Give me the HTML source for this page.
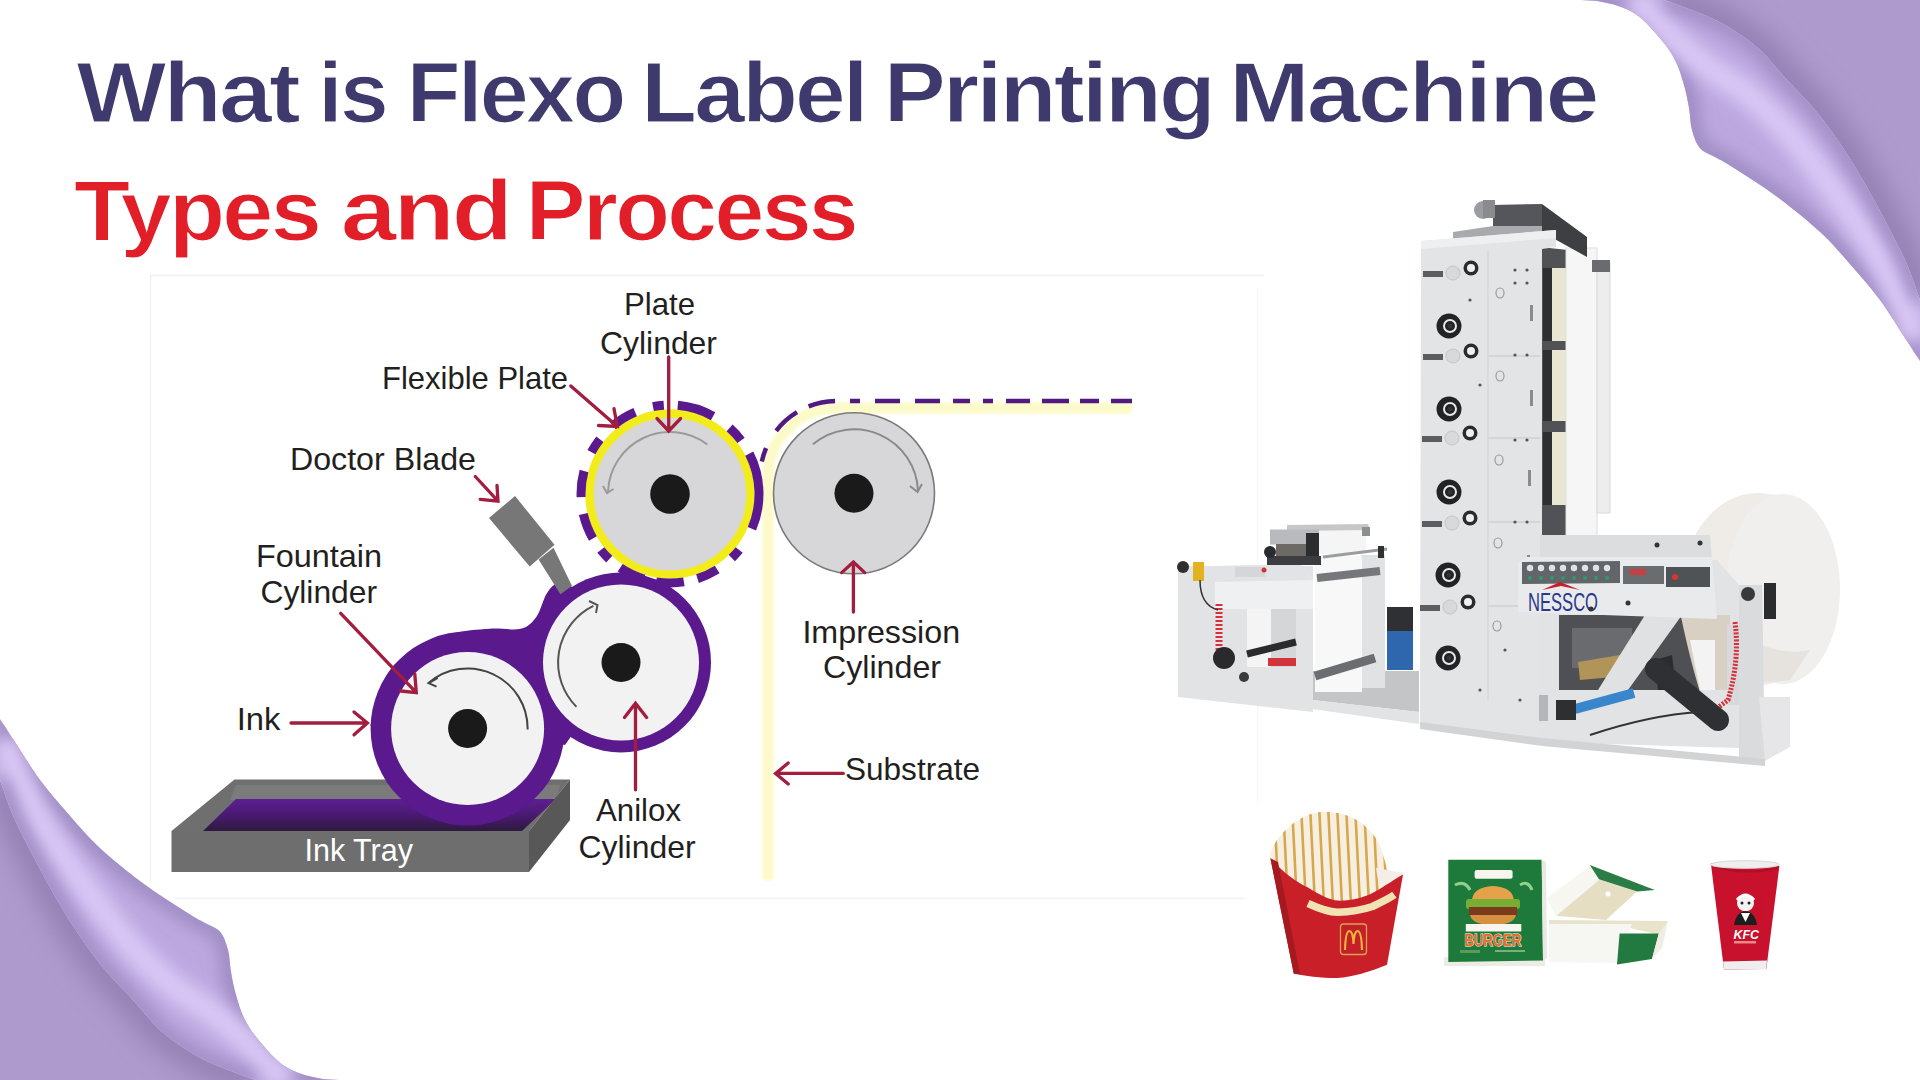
<!DOCTYPE html>
<html><head><meta charset="utf-8"><title>Flexo Label Printing Machine</title>
<style>
html,body{margin:0;padding:0;width:1920px;height:1080px;overflow:hidden;background:#fff}
svg{position:absolute;left:0;top:0;display:block}
</style></head><body>
<svg width="1920" height="1080" viewBox="0 0 1920 1080">
<defs>
<filter id="blur8" x="-20%" y="-20%" width="140%" height="140%"><feGaussianBlur stdDeviation="8"/></filter>
<filter id="blur12" x="-30%" y="-30%" width="160%" height="160%"><feGaussianBlur stdDeviation="12"/></filter>
<filter id="blur3" x="-20%" y="-20%" width="140%" height="140%"><feGaussianBlur stdDeviation="3"/></filter>
<filter id="blur1" x="-20%" y="-20%" width="140%" height="140%"><feGaussianBlur stdDeviation="1.5"/></filter>
</defs>
<path d="M150,275.5 L1264,275.5" stroke="#f0f0f0" stroke-width="1.3"/><path d="M150.5,275 L150.5,881" stroke="#f1f1f1" stroke-width="1.3"/><path d="M175,898.5 L1245,898.5" stroke="#f2f2f2" stroke-width="1.3"/><path d="M1257.5,288 L1257.5,805" stroke="#f7f7f7" stroke-width="1.3"/>
<path d="M1132,408 L837,408 A69,69 0 0 0 768,477 L768,880" fill="none" stroke="#fbfac8" stroke-width="11" filter="url(#blur1)"/>
<path d="M1132,401 L837,401 A77,77 0 0 0 760,478" fill="none" stroke="#521a80" stroke-width="4.5" stroke-dasharray="21 12 19 11 27 12 24 13 10 13 17 13 25 15 25 15 10 15 27 13 28 20 14 100"/>
<polygon points="171.5,831 234.5,779.5 570,779.5 529,831" fill="#6f6f6f"/>
<polygon points="236,785 560,785 556,800 230,800" fill="#7b7b7b"/>
<linearGradient id="ink" x1="0" y1="0" x2="0" y2="1"><stop offset="0" stop-color="#5e1f92"/><stop offset="0.5" stop-color="#4a1a72"/><stop offset="1" stop-color="#2d1a3e"/></linearGradient>
<polygon points="203,831 236,799 556,799 522,831" fill="url(#ink)"/>
<path d="M370.4,725.9 C373.0,717.7 379.1,689.1 386.0,676.6 C392.9,664.1 401.0,657.8 411.8,650.7 C422.6,643.6 437.7,637.6 450.7,633.9 C463.7,630.2 477.9,629.6 489.6,628.7 C501.3,627.8 512.9,630.7 520.7,628.7 C528.5,626.8 532.0,622.8 536.3,617.0 C540.6,611.2 543.1,599.3 546.6,593.7 C550.1,588.1 553.5,584.6 557.0,583.3 C560.5,582.0 561.9,584.9 567.4,586.0 C572.9,587.1 586.2,589.3 590.0,590.0 L623,662 L565,745 L467.6,728.5 Z" fill="#5a1a8e"/>
<circle cx="467.6" cy="728.5" r="97" fill="#5a1a8e"/>
<circle cx="467.6" cy="728.5" r="76.5" fill="#f2f2f3"/>
<circle cx="467.6" cy="728.5" r="19.5" fill="#1a1a1a"/>
<circle cx="621" cy="662.4" r="90" fill="#5a1a8e"/>
<circle cx="621" cy="662.4" r="78" fill="#f2f2f3"/>
<circle cx="621" cy="662.4" r="19.5" fill="#1a1a1a"/>
<rect x="171.5" y="831" width="357.5" height="41" fill="#6e6e6e"/>
<polygon points="529,831 570,779.5 570,820 529,872" fill="#585858"/>
<polygon points="489,518 515,496 554.5,544.8 529.7,566.5" fill="#777777"/>
<polygon points="538.6,559.6 553.5,547.8 572,586 560.4,594.3" fill="#777777"/>
<circle cx="670" cy="494" r="80.5" fill="#d7d7d9" stroke="#f3ec1b" stroke-width="8.5"/>
<path d="M653.0,406.6 A89,89 0 0 1 663.8,405.2 M677.8,405.3 A89,89 0 0 1 713.1,416.2 M729.6,427.9 A89,89 0 0 1 741.1,440.4 M749.3,453.6 A89,89 0 0 1 751.9,528.8 M739.2,550.0 A89,89 0 0 1 731.8,558.0 M717.2,569.5 A89,89 0 0 1 697.5,578.6 M683.9,581.9 A89,89 0 0 1 656.1,581.9 M644.0,579.1 A89,89 0 0 1 620.2,567.8 M609.3,559.1 A89,89 0 0 1 600.8,550.0 M592.9,538.5 A89,89 0 0 1 583.3,514.0 M581.1,497.1 A89,89 0 0 1 584.0,471.0 M591.4,452.2 A89,89 0 0 1 599.9,439.2 M612.8,425.8 A89,89 0 0 1 635.2,412.1" fill="none" stroke="#5a1a8e" stroke-width="9"/>
<circle cx="670" cy="494" r="19.8" fill="#1a1a1a"/>
<circle cx="854" cy="493.3" r="80.5" fill="#d7d7d9" stroke="#7a7a7a" stroke-width="1.6"/>
<circle cx="854" cy="493.3" r="19.5" fill="#1a1a1a"/>
<path d="M707.3,444.5 A62,62 0 0 0 608.0,491.8" fill="none" stroke="#9a9a9a" stroke-width="2"/>
<polyline points="603,486 607,493 613.5,489" fill="none" stroke="#9a9a9a" stroke-width="2"/>
<path d="M812.9,444.3 A64,64 0 0 1 918.0,491.1" fill="none" stroke="#8a8a8a" stroke-width="2"/>
<polyline points="910,486 917.5,492 922,484" fill="none" stroke="#8a8a8a" stroke-width="2"/>
<path d="M527.6,729.5 A60,60 0 0 0 428.2,683.2" fill="none" stroke="#444" stroke-width="2"/>
<polyline points="437.8,678 428.7,683.1 436.5,686.7" fill="none" stroke="#444" stroke-width="2"/>
<path d="M576.5,706.9 A63,63 0 0 1 593.4,605.8" fill="none" stroke="#555" stroke-width="2"/>
<polyline points="589,601 597.5,605 596,613" fill="none" stroke="#555" stroke-width="2"/>
<path d="M668.7,357 L668.7,431 M657,418.5 L668.7,431 L680.6,418.5" fill="none" stroke="#a31d3f" stroke-width="3.3" stroke-linejoin="miter" stroke-linecap="round"/>
<path d="M570.8,385.9 L617.3,426.4 M614,408.6 L617.3,426.4 L598.5,425.5" fill="none" stroke="#a31d3f" stroke-width="3.3" stroke-linejoin="miter" stroke-linecap="round"/>
<path d="M475.3,476.5 L498,501.2 M497,485.4 L498,501.2 L480.2,499.3" fill="none" stroke="#a31d3f" stroke-width="3.3" stroke-linejoin="miter" stroke-linecap="round"/>
<path d="M340.7,613.3 L416.3,692.6 M414.8,674 L416.3,692.6 L400.7,691" fill="none" stroke="#a31d3f" stroke-width="3.3" stroke-linejoin="miter" stroke-linecap="round"/>
<path d="M291,723 L367.4,723 M354,711.9 L367.4,723 L354,734.8" fill="none" stroke="#a31d3f" stroke-width="3.3" stroke-linejoin="miter" stroke-linecap="round"/>
<path d="M635.5,789.8 L635.5,703.2 M624.5,717.4 L635.5,703.2 L646.6,717.4" fill="none" stroke="#a31d3f" stroke-width="3.3" stroke-linejoin="miter" stroke-linecap="round"/>
<path d="M853.4,612 L853.4,562 M841.7,572.6 L853.4,562 L864.7,572.6" fill="none" stroke="#a31d3f" stroke-width="3.3" stroke-linejoin="miter" stroke-linecap="round"/>
<path d="M843.3,773.4 L775.6,773.4 M788.2,763 L775.6,773.4 L788.2,784" fill="none" stroke="#a31d3f" stroke-width="3.3" stroke-linejoin="miter" stroke-linecap="round"/>
<text x="623.91" y="315" font-family='"Liberation Sans", sans-serif' font-size="32" fill="#231f20" textLength="71.14" lengthAdjust="spacingAndGlyphs">Plate</text>
<text x="599.96" y="353.6" font-family='"Liberation Sans", sans-serif' font-size="32" fill="#231f20" textLength="117.04" lengthAdjust="spacingAndGlyphs">Cylinder</text>
<text x="381.97" y="389" font-family='"Liberation Sans", sans-serif' font-size="32" fill="#231f20" textLength="186.05" lengthAdjust="spacingAndGlyphs">Flexible Plate</text>
<text x="289.95" y="469.6" font-family='"Liberation Sans", sans-serif' font-size="32" fill="#231f20" textLength="186.07" lengthAdjust="spacingAndGlyphs">Doctor Blade</text>
<text x="255.9" y="566.6" font-family='"Liberation Sans", sans-serif' font-size="32" fill="#231f20" textLength="126.18" lengthAdjust="spacingAndGlyphs">Fountain</text>
<text x="260.47" y="603" font-family='"Liberation Sans", sans-serif' font-size="32" fill="#231f20" textLength="116.53" lengthAdjust="spacingAndGlyphs">Cylinder</text>
<text x="236.78" y="730.4" font-family='"Liberation Sans", sans-serif' font-size="32" fill="#231f20" textLength="43.71" lengthAdjust="spacingAndGlyphs">Ink</text>
<text x="596.0" y="820.6" font-family='"Liberation Sans", sans-serif' font-size="32" fill="#231f20" textLength="85.0" lengthAdjust="spacingAndGlyphs">Anilox</text>
<text x="578.46" y="857.5" font-family='"Liberation Sans", sans-serif' font-size="32" fill="#231f20" textLength="117.05" lengthAdjust="spacingAndGlyphs">Cylinder</text>
<text x="802.41" y="642.5" font-family='"Liberation Sans", sans-serif' font-size="32" fill="#231f20" textLength="157.66" lengthAdjust="spacingAndGlyphs">Impression</text>
<text x="822.98" y="678" font-family='"Liberation Sans", sans-serif' font-size="32" fill="#231f20" textLength="118.02" lengthAdjust="spacingAndGlyphs">Cylinder</text>
<text x="844.97" y="780.3" font-family='"Liberation Sans", sans-serif' font-size="32" fill="#231f20" textLength="135.05" lengthAdjust="spacingAndGlyphs">Substrate</text>
<text x="304.46" y="860.8" font-family='"Liberation Sans", sans-serif' font-size="32" fill="#ffffff" textLength="108.55" lengthAdjust="spacingAndGlyphs">Ink Tray</text>

<g id="curl">
  <clipPath id="backclip"><path d="M1920.0,300.0 C1917.8,294.1 1912.2,276.5 1907.0,264.5 C1901.8,252.5 1895.5,240.6 1889.0,228.0 C1882.5,215.4 1875.4,201.9 1868.0,189.0 C1860.6,176.1 1853.4,163.3 1844.8,150.4 C1836.2,137.5 1826.3,123.6 1816.3,111.5 C1806.3,99.4 1794.9,88.5 1785.0,77.8 C1775.1,67.0 1768.2,56.6 1756.7,47.0 C1745.2,37.4 1731.3,28.1 1716.0,20.3 C1700.7,12.5 1673.2,3.4 1664.6,0.0 L1920,0 Z"/></clipPath>
  <clipPath id="bandclip"><path d="M1560.0,0.0 C1566.7,0.2 1587.5,-0.8 1600.0,1.5 C1612.5,3.8 1624.5,7.0 1634.8,13.5 C1645.1,20.0 1655.0,32.5 1661.9,40.6 C1668.8,48.7 1672.3,54.6 1676.0,62.0 C1679.7,69.4 1681.8,77.3 1684.0,85.0 C1686.2,92.7 1687.7,100.6 1689.0,108.0 C1690.3,115.4 1690.1,123.0 1691.9,129.6 C1693.7,136.2 1695.8,143.2 1699.6,147.8 C1703.4,152.4 1709.8,154.0 1715.0,157.0 C1720.2,160.0 1720.3,159.3 1730.7,166.0 C1741.1,172.7 1762.3,185.8 1777.4,197.0 C1792.5,208.2 1809.0,221.6 1821.5,233.3 C1834.0,245.0 1842.8,255.9 1852.6,267.0 C1862.3,278.1 1871.3,288.2 1880.0,300.0 C1888.7,311.8 1898.3,327.8 1905.0,338.0 C1911.7,348.2 1917.5,357.2 1920.0,361.0 L1920.0,300.0 C1917.8,294.1 1912.2,276.5 1907.0,264.5 C1901.8,252.5 1895.5,240.6 1889.0,228.0 C1882.5,215.4 1875.4,201.9 1868.0,189.0 C1860.6,176.1 1853.4,163.3 1844.8,150.4 C1836.2,137.5 1826.3,123.6 1816.3,111.5 C1806.3,99.4 1794.9,88.5 1785.0,77.8 C1775.1,67.0 1768.2,56.6 1756.7,47.0 C1745.2,37.4 1731.3,28.1 1716.0,20.3 C1700.7,12.5 1673.2,3.4 1664.6,0.0 Z"/></clipPath>
  <path d="M1920.0,300.0 C1917.8,294.1 1912.2,276.5 1907.0,264.5 C1901.8,252.5 1895.5,240.6 1889.0,228.0 C1882.5,215.4 1875.4,201.9 1868.0,189.0 C1860.6,176.1 1853.4,163.3 1844.8,150.4 C1836.2,137.5 1826.3,123.6 1816.3,111.5 C1806.3,99.4 1794.9,88.5 1785.0,77.8 C1775.1,67.0 1768.2,56.6 1756.7,47.0 C1745.2,37.4 1731.3,28.1 1716.0,20.3 C1700.7,12.5 1673.2,3.4 1664.6,0.0 L1920,0 Z" fill="#ae9acd"/>
  <g clip-path="url(#backclip)">
    <path d="M1920.0,300.0 C1917.8,294.1 1912.2,276.5 1907.0,264.5 C1901.8,252.5 1895.5,240.6 1889.0,228.0 C1882.5,215.4 1875.4,201.9 1868.0,189.0 C1860.6,176.1 1853.4,163.3 1844.8,150.4 C1836.2,137.5 1826.3,123.6 1816.3,111.5 C1806.3,99.4 1794.9,88.5 1785.0,77.8 C1775.1,67.0 1768.2,56.6 1756.7,47.0 C1745.2,37.4 1731.3,28.1 1716.0,20.3 C1700.7,12.5 1673.2,3.4 1664.6,0.0" fill="none" stroke="#9481b3" stroke-width="34" filter="url(#blur12)"/>
  </g>
  <path d="M1560.0,0.0 C1566.7,0.2 1587.5,-0.8 1600.0,1.5 C1612.5,3.8 1624.5,7.0 1634.8,13.5 C1645.1,20.0 1655.0,32.5 1661.9,40.6 C1668.8,48.7 1672.3,54.6 1676.0,62.0 C1679.7,69.4 1681.8,77.3 1684.0,85.0 C1686.2,92.7 1687.7,100.6 1689.0,108.0 C1690.3,115.4 1690.1,123.0 1691.9,129.6 C1693.7,136.2 1695.8,143.2 1699.6,147.8 C1703.4,152.4 1709.8,154.0 1715.0,157.0 C1720.2,160.0 1720.3,159.3 1730.7,166.0 C1741.1,172.7 1762.3,185.8 1777.4,197.0 C1792.5,208.2 1809.0,221.6 1821.5,233.3 C1834.0,245.0 1842.8,255.9 1852.6,267.0 C1862.3,278.1 1871.3,288.2 1880.0,300.0 C1888.7,311.8 1898.3,327.8 1905.0,338.0 C1911.7,348.2 1917.5,357.2 1920.0,361.0 L1920.0,300.0 C1917.8,294.1 1912.2,276.5 1907.0,264.5 C1901.8,252.5 1895.5,240.6 1889.0,228.0 C1882.5,215.4 1875.4,201.9 1868.0,189.0 C1860.6,176.1 1853.4,163.3 1844.8,150.4 C1836.2,137.5 1826.3,123.6 1816.3,111.5 C1806.3,99.4 1794.9,88.5 1785.0,77.8 C1775.1,67.0 1768.2,56.6 1756.7,47.0 C1745.2,37.4 1731.3,28.1 1716.0,20.3 C1700.7,12.5 1673.2,3.4 1664.6,0.0 Z" fill="#bca8df"/>
  <g clip-path="url(#bandclip)">
    <path d="M1560.0,0.0 C1566.7,0.2 1587.5,-0.8 1600.0,1.5 C1612.5,3.8 1624.5,7.0 1634.8,13.5 C1645.1,20.0 1655.0,32.5 1661.9,40.6 C1668.8,48.7 1672.3,54.6 1676.0,62.0 C1679.7,69.4 1681.8,77.3 1684.0,85.0 C1686.2,92.7 1687.7,100.6 1689.0,108.0 C1690.3,115.4 1690.1,123.0 1691.9,129.6 C1693.7,136.2 1695.8,143.2 1699.6,147.8 C1703.4,152.4 1709.8,154.0 1715.0,157.0 C1720.2,160.0 1720.3,159.3 1730.7,166.0 C1741.1,172.7 1762.3,185.8 1777.4,197.0 C1792.5,208.2 1809.0,221.6 1821.5,233.3 C1834.0,245.0 1842.8,255.9 1852.6,267.0 C1862.3,278.1 1871.3,288.2 1880.0,300.0 C1888.7,311.8 1898.3,327.8 1905.0,338.0 C1911.7,348.2 1917.5,357.2 1920.0,361.0" fill="none" stroke="#9f8bc3" stroke-width="20" filter="url(#blur8)"/>
    <path d="M1630.0,0.0 C1633.3,2.0 1642.4,5.2 1650.0,12.0 C1657.6,18.8 1665.6,31.3 1675.4,40.6 C1685.2,49.9 1696.6,58.5 1709.0,67.7 C1721.4,76.9 1736.5,84.8 1750.0,96.0 C1763.5,107.2 1777.2,120.8 1790.0,135.0 C1802.8,149.2 1815.8,167.3 1826.7,181.5 C1837.6,195.7 1846.2,207.4 1855.2,220.4 C1864.2,233.4 1872.7,244.4 1881.0,259.3 C1889.3,274.2 1899.3,296.6 1905.0,310.0 C1910.7,323.4 1913.3,335.0 1915.0,340.0" fill="none" stroke="#d9c8f6" stroke-width="26" filter="url(#blur8)"/>
    <path d="M1920.0,300.0 C1917.8,294.1 1912.2,276.5 1907.0,264.5 C1901.8,252.5 1895.5,240.6 1889.0,228.0 C1882.5,215.4 1875.4,201.9 1868.0,189.0 C1860.6,176.1 1853.4,163.3 1844.8,150.4 C1836.2,137.5 1826.3,123.6 1816.3,111.5 C1806.3,99.4 1794.9,88.5 1785.0,77.8 C1775.1,67.0 1768.2,56.6 1756.7,47.0 C1745.2,37.4 1731.3,28.1 1716.0,20.3 C1700.7,12.5 1673.2,3.4 1664.6,0.0" fill="none" stroke="#9f8bc2" stroke-width="16" filter="url(#blur8)"/>
  </g>
</g>
<use href="#curl" transform="rotate(180 960 540)"/>
<text x="76.50" y="122" font-family='"Liberation Sans", sans-serif' font-weight="700" letter-spacing="-2.5" font-size="85" fill="#3e3a6d" textLength="221.51" lengthAdjust="spacingAndGlyphs" stroke="#ffffff" stroke-width="1.2">What</text>
<text x="318.33" y="122" font-family='"Liberation Sans", sans-serif' font-weight="700" letter-spacing="-2.5" font-size="85" fill="#3e3a6d" textLength="67.79" lengthAdjust="spacingAndGlyphs" stroke="#ffffff" stroke-width="1.2">is</text>
<text x="406.85" y="122" font-family='"Liberation Sans", sans-serif' font-weight="700" letter-spacing="-2.5" font-size="85" fill="#3e3a6d" textLength="216.66" lengthAdjust="spacingAndGlyphs" stroke="#ffffff" stroke-width="1.2">Flexo</text>
<text x="641.26" y="122" font-family='"Liberation Sans", sans-serif' font-weight="700" letter-spacing="-2.5" font-size="85" fill="#3e3a6d" textLength="224.39" lengthAdjust="spacingAndGlyphs" stroke="#ffffff" stroke-width="1.2">Label</text>
<text x="883.85" y="122" font-family='"Liberation Sans", sans-serif' font-weight="700" letter-spacing="-2.5" font-size="85" fill="#3e3a6d" textLength="329.23" lengthAdjust="spacingAndGlyphs" stroke="#ffffff" stroke-width="1.2">Printing</text>
<text x="1228.90" y="122" font-family='"Liberation Sans", sans-serif' font-weight="700" letter-spacing="-2.5" font-size="85" fill="#3e3a6d" textLength="367.61" lengthAdjust="spacingAndGlyphs" stroke="#ffffff" stroke-width="1.2">Machine</text>
<text x="73.99" y="240" font-family='"Liberation Sans", sans-serif' font-weight="700" letter-spacing="-2.5" font-size="85" fill="#e21f29" textLength="245.02" lengthAdjust="spacingAndGlyphs" stroke="#ffffff" stroke-width="1.2">Types</text>
<text x="340.87" y="240" font-family='"Liberation Sans", sans-serif' font-weight="700" letter-spacing="-2.5" font-size="85" fill="#e21f29" textLength="169.27" lengthAdjust="spacingAndGlyphs" stroke="#ffffff" stroke-width="1.2">and</text>
<text x="525.88" y="240" font-family='"Liberation Sans", sans-serif' font-weight="700" letter-spacing="-2.5" font-size="85" fill="#e21f29" textLength="330.13" lengthAdjust="spacingAndGlyphs" stroke="#ffffff" stroke-width="1.2">Process</text>
<ellipse cx="1758" cy="589" rx="76" ry="96" fill="#efece8"/>
<ellipse cx="1783" cy="589" rx="57" ry="95" fill="#f0efed"/>
<path d="M1700,640 Q1730,690 1790,680 L1810,650 Q1760,660 1720,610 Z" fill="#dcd8d2" opacity="0.5"/>
<polygon points="1540,247 1568,250 1568,535 1540,535" fill="#505256"/>
<rect x="1551" y="268" width="16" height="73" fill="#e9e7d4"/>
<rect x="1543" y="268" width="9" height="73" fill="#2e2f31"/>
<rect x="1551" y="350" width="16" height="71" fill="#e9e7d4"/>
<rect x="1543" y="350" width="9" height="71" fill="#2e2f31"/>
<rect x="1551" y="432" width="16" height="73" fill="#e9e7d4"/>
<rect x="1543" y="432" width="9" height="73" fill="#2e2f31"/>
<rect x="1566" y="248" width="31" height="288" fill="#f6f6f6" stroke="#dedede" stroke-width="1"/>
<rect x="1597" y="263" width="13" height="250" fill="#ededee" stroke="#d8d8d8" stroke-width="1"/>
<rect x="1592" y="260" width="18" height="12" fill="#6a6b6e"/>
<polygon points="1542,204 1587,237 1587,257 1542,232" fill="#3e3f43"/>
<polygon points="1493,205 1542,204 1542,232 1493,232" fill="#55565b"/>
<polygon points="1453,232 1493,226 1542,226 1542,240 1453,242" fill="#a9aaad"/>
<circle cx="1483" cy="210" r="9" fill="#9c9da0"/>
<rect x="1483" y="200" width="12" height="18" fill="#8a8b8e"/>
<polygon points="1421,241 1556,230 1556,247 1542,249 1542,740 1420,724" fill="#e3e4e6"/>
<polygon points="1421,241 1556,230 1556,238 1421,249" fill="#eeeff0"/>
<line x1="1488" y1="356" x2="1540" y2="356" stroke="#cfd0d3" stroke-width="1.5"/>
<line x1="1488" y1="438" x2="1540" y2="438" stroke="#cfd0d3" stroke-width="1.5"/>
<line x1="1488" y1="522" x2="1540" y2="522" stroke="#cfd0d3" stroke-width="1.5"/>
<line x1="1488" y1="606" x2="1540" y2="606" stroke="#cfd0d3" stroke-width="1.5"/>
<line x1="1488" y1="250" x2="1488" y2="700" stroke="#d6d7d9" stroke-width="1.2"/>
<circle cx="1449" cy="326" r="12.5" fill="#222326"/><circle cx="1450" cy="326" r="6" fill="none" stroke="#e8e8e8" stroke-width="2"/><circle cx="1450" cy="326" r="2.5" fill="#333"/>
<circle cx="1449" cy="409" r="12.5" fill="#222326"/><circle cx="1450" cy="409" r="6" fill="none" stroke="#e8e8e8" stroke-width="2"/><circle cx="1450" cy="409" r="2.5" fill="#333"/>
<circle cx="1449" cy="492" r="12.5" fill="#222326"/><circle cx="1450" cy="492" r="6" fill="none" stroke="#e8e8e8" stroke-width="2"/><circle cx="1450" cy="492" r="2.5" fill="#333"/>
<circle cx="1448" cy="575" r="12.5" fill="#222326"/><circle cx="1449" cy="575" r="6" fill="none" stroke="#e8e8e8" stroke-width="2"/><circle cx="1449" cy="575" r="2.5" fill="#333"/>
<circle cx="1448" cy="658" r="12.5" fill="#222326"/><circle cx="1449" cy="658" r="6" fill="none" stroke="#e8e8e8" stroke-width="2"/><circle cx="1449" cy="658" r="2.5" fill="#333"/>
<circle cx="1471" cy="268" r="7.5" fill="#2a2b2e"/><circle cx="1471" cy="268" r="4" fill="#f0f0f0"/>
<circle cx="1453" cy="273" r="7" fill="#d8d9db" stroke="#c4c5c8" stroke-width="1"/>
<rect x="1423" y="271" width="20" height="6" fill="#5c5d60"/>
<circle cx="1471" cy="351" r="7.5" fill="#2a2b2e"/><circle cx="1471" cy="351" r="4" fill="#f0f0f0"/>
<circle cx="1453" cy="356" r="7" fill="#d8d9db" stroke="#c4c5c8" stroke-width="1"/>
<rect x="1423" y="354" width="20" height="6" fill="#5c5d60"/>
<circle cx="1470" cy="433" r="7.5" fill="#2a2b2e"/><circle cx="1470" cy="433" r="4" fill="#f0f0f0"/>
<circle cx="1452" cy="438" r="7" fill="#d8d9db" stroke="#c4c5c8" stroke-width="1"/>
<rect x="1422" y="436" width="20" height="6" fill="#5c5d60"/>
<circle cx="1470" cy="518" r="7.5" fill="#2a2b2e"/><circle cx="1470" cy="518" r="4" fill="#f0f0f0"/>
<circle cx="1452" cy="523" r="7" fill="#d8d9db" stroke="#c4c5c8" stroke-width="1"/>
<rect x="1422" y="521" width="20" height="6" fill="#5c5d60"/>
<circle cx="1468" cy="602" r="7.5" fill="#2a2b2e"/><circle cx="1468" cy="602" r="4" fill="#f0f0f0"/>
<circle cx="1450" cy="607" r="7" fill="#d8d9db" stroke="#c4c5c8" stroke-width="1"/>
<rect x="1420" y="605" width="20" height="6" fill="#5c5d60"/>
<ellipse cx="1500" cy="293" rx="4" ry="5" fill="none" stroke="#9a9b9e" stroke-width="1.2"/>
<ellipse cx="1500" cy="376" rx="4" ry="5" fill="none" stroke="#9a9b9e" stroke-width="1.2"/>
<ellipse cx="1499" cy="460" rx="4" ry="5" fill="none" stroke="#9a9b9e" stroke-width="1.2"/>
<ellipse cx="1498" cy="543" rx="4" ry="5" fill="none" stroke="#9a9b9e" stroke-width="1.2"/>
<ellipse cx="1497" cy="626" rx="4" ry="5" fill="none" stroke="#9a9b9e" stroke-width="1.2"/>
<rect x="1530" y="305" width="3" height="16" fill="#8a8b8e"/>
<rect x="1530" y="390" width="3" height="16" fill="#8a8b8e"/>
<rect x="1528" y="470" width="3" height="16" fill="#8a8b8e"/>
<rect x="1527" y="555" width="3" height="16" fill="#8a8b8e"/>
<circle cx="1515" cy="270" r="1.6" fill="#555"/>
<circle cx="1527" cy="270" r="1.6" fill="#555"/>
<circle cx="1515" cy="283" r="1.6" fill="#555"/>
<circle cx="1527" cy="283" r="1.6" fill="#555"/>
<circle cx="1515" cy="355" r="1.6" fill="#555"/>
<circle cx="1527" cy="355" r="1.6" fill="#555"/>
<circle cx="1515" cy="440" r="1.6" fill="#555"/>
<circle cx="1527" cy="440" r="1.6" fill="#555"/>
<circle cx="1515" cy="522" r="1.6" fill="#555"/>
<circle cx="1527" cy="522" r="1.6" fill="#555"/>
<circle cx="1470" cy="300" r="1.6" fill="#555"/>
<circle cx="1480" cy="385" r="1.6" fill="#555"/>
<circle cx="1505" cy="650" r="1.6" fill="#555"/>
<circle cx="1480" cy="690" r="1.6" fill="#555"/>
<circle cx="1520" cy="700" r="1.6" fill="#555"/>
<polygon points="1312,671 1419,671 1419,712 1312,700" fill="#c4c5c7"/>
<polygon points="1312,700 1419,712 1419,724 1312,709" fill="#e2e3e5"/>
<rect x="1361" y="555" width="24" height="133" fill="#e1e2e4"/>
<rect x="1315" y="556" width="47" height="136" fill="#f8f8f8"/>
<line x1="1317" y1="578" x2="1380" y2="571" stroke="#76777a" stroke-width="8"/>
<line x1="1315" y1="676" x2="1375" y2="658" stroke="#6c6d70" stroke-width="9"/>
<path fill-rule="evenodd" d="M1178,566 L1313,566 L1313,712 L1178,697 Z M1247,607 L1296,607 L1296,667 L1247,667 Z" fill="#e2e3e5"/>
<rect x="1247" y="607" width="24" height="60" fill="#f4f4f5"/>
<rect x="1271" y="607" width="25" height="60" fill="#d5d6d8"/>
<line x1="1247" y1="654" x2="1296" y2="642" stroke="#2b2b2d" stroke-width="7"/>
<rect x="1268" y="658" width="28" height="8" fill="#d2343a"/>
<polygon points="1215,566 1300,564 1313,580 1313,609 1215,609" fill="#eff0f1"/>
<polygon points="1215,566 1300,564 1313,580 1215,582" fill="#e2e3e6"/>
<rect x="1235" y="567" width="30" height="10" fill="#d5d6d9"/>
<circle cx="1264" cy="570" r="2.5" fill="#c33"/>
<path d="M1219,604 L1219,660" stroke="#d8303a" stroke-width="7" stroke-dasharray="2 2"/>
<circle cx="1224" cy="658" r="11" fill="#2a2a2c"/>
<circle cx="1244" cy="677" r="5" fill="#3a3a3c"/>
<rect x="1193" y="562" width="11" height="19" fill="#e3b21f"/>
<circle cx="1183" cy="567" r="6" fill="#2f2f31"/>
<path d="M1200,580 Q1200,605 1218,610" fill="none" stroke="#333" stroke-width="1.5"/>
<rect x="1319" y="530" width="47" height="24" fill="#f5f5f5"/>
<polygon points="1287,525 1368,524 1370,530 1287,531" fill="#c6c7c9"/>
<rect x="1362" y="527" width="8" height="9" fill="#8d8e90"/>
<rect x="1270" y="529.5" width="49" height="15" fill="#b9babd"/>
<rect x="1276" y="544" width="30" height="13" fill="#6d6a66"/>
<rect x="1306" y="533" width="13" height="28" fill="#2c2d30"/>
<rect x="1267" y="556" width="54" height="9" fill="#3c3d40"/>
<circle cx="1270" cy="552" r="6" fill="#2a2b2e"/>
<line x1="1323" y1="557" x2="1387" y2="549" stroke="#9c9da0" stroke-width="3"/>
<rect x="1378" y="546" width="6" height="12" fill="#2f3033"/>
<rect x="1387" y="612" width="26" height="58" fill="#2e67ad"/>
<rect x="1387" y="607" width="26" height="24" fill="#2f3034"/>
<polygon points="1540,535 1710,535 1712,560 1540,560" fill="#dcdddf"/>
<polygon points="1559,612 1739,612 1739,692 1559,692" fill="#4f5053"/>
<path d="M1660,612 L1739,612 L1739,692 L1700,692 Q1690,660 1680,612 Z" fill="#d8d0c2"/>
<rect x="1572" y="628" width="60" height="40" fill="#6a6b6e"/>
<polygon points="1578,662 1620,655 1625,676 1580,680" fill="#b09458"/>
<path fill-rule="evenodd" d="M1540,560 L1717,560 L1739,585 L1739,748 L1540,742 Z M1559,615 L1730,615 L1730,690 L1559,690 Z" fill="#e2e3e5"/>
<polygon points="1645,615 1682,615 1628,690 1598,690" fill="#e0e1e3"/>
<polygon points="1690,640 1715,640 1715,690 1700,690" fill="#f3f3f3"/>
<polygon points="1655,660 1672,655 1676,690 1658,690" fill="#2b2c2e"/>
<rect x="1727" y="625" width="12" height="80" fill="#d9d9db"/>
<path d="M1735,622 Q1740,660 1728,700 L1712,712" fill="none" stroke="#d6303a" stroke-width="5" stroke-dasharray="2 1.5"/>
<polygon points="1518,563 1527,557 1712,557 1717,619 1518,612" fill="#e9eaec"/>
<polygon points="1522,562 1620,561 1620,583 1522,584" fill="#62666a"/>
<circle cx="1530" cy="568" r="3.2" fill="#dfe3e6"/><circle cx="1530" cy="578" r="2" fill="#2f9a6a"/>
<circle cx="1541" cy="568" r="3.2" fill="#dfe3e6"/><circle cx="1541" cy="578" r="2" fill="#2f9a6a"/>
<circle cx="1552" cy="568" r="3.2" fill="#dfe3e6"/><circle cx="1552" cy="578" r="2" fill="#2f9a6a"/>
<circle cx="1563" cy="568" r="3.2" fill="#dfe3e6"/><circle cx="1563" cy="578" r="2" fill="#2f9a6a"/>
<circle cx="1574" cy="568" r="3.2" fill="#dfe3e6"/><circle cx="1574" cy="578" r="2" fill="#2f9a6a"/>
<circle cx="1585" cy="568" r="3.2" fill="#dfe3e6"/><circle cx="1585" cy="578" r="2" fill="#2f9a6a"/>
<circle cx="1596" cy="568" r="3.2" fill="#dfe3e6"/><circle cx="1596" cy="578" r="2" fill="#2f9a6a"/>
<circle cx="1607" cy="568" r="3.2" fill="#dfe3e6"/><circle cx="1607" cy="578" r="2" fill="#2f9a6a"/>
<rect x="1623" y="566" width="41" height="18" fill="#6a6d70"/><rect x="1630" y="569" width="16" height="6" fill="#c94040"/>
<rect x="1666" y="567" width="44" height="20" fill="#505356"/><circle cx="1675" cy="577" r="3" fill="#d33"/>
<polygon points="1542,590 1560,582 1580,590 1561,586" fill="#c41f2a"/>
<text x="1528" y="611" font-family='"Liberation Sans", sans-serif' font-size="25" fill="#2b3889" textLength="70" lengthAdjust="spacingAndGlyphs">NESSCO</text>
<polygon points="1739,585 1762,585 1765,761 1739,761" fill="#dadbdd"/>
<polygon points="1759,697 1790,697 1790,747 1765,761" fill="#e6e6e8"/>
<rect x="1764" y="583" width="12" height="36" fill="#2b2c2e"/>
<circle cx="1748" cy="594" r="7" fill="#38393c"/>
<line x1="1656" y1="669" x2="1718" y2="720" stroke="#2f3033" stroke-width="22" stroke-linecap="round"/>
<line x1="1575" y1="709" x2="1634" y2="693" stroke="#3a86cc" stroke-width="10"/>
<rect x="1556" y="700" width="20" height="20" fill="#2e2f31"/>
<rect x="1539" y="695" width="9" height="26" fill="#b5b6b9"/>
<path d="M1590,735 Q1650,715 1700,712" fill="none" stroke="#333" stroke-width="2"/>
<circle cx="1591" cy="609" r="2.5" fill="#333"/><circle cx="1628" cy="603" r="2.5" fill="#333"/><circle cx="1657" cy="545" r="2.5" fill="#333"/><circle cx="1700" cy="543" r="2.5" fill="#333"/>
<polygon points="1420,722 1542,738 1765,759 1765,766 1542,746 1420,729" fill="#d2d3d5"/>
<path d="M1270.4,853 C1276,836 1298,813 1323,811.7 C1350,811 1372,826 1381,848 L1388,872 L1388,906 L1280,906 L1270.4,858 Z" fill="#f6f0e2"/>
<clipPath id="friesclip"><path d="M1270.4,853 C1276,836 1298,813 1323,811.7 C1350,811 1372,826 1381,848 L1388,872 L1388,906 L1280,906 L1270.4,858 Z"/></clipPath><g clip-path="url(#friesclip)"><line x1="1274" y1="805" x2="1279" y2="905" stroke="#d9a64c" stroke-width="2.6"/><line x1="1283" y1="805" x2="1288" y2="905" stroke="#d9a64c" stroke-width="2.6"/><line x1="1292" y1="805" x2="1297" y2="905" stroke="#d9a64c" stroke-width="2.6"/><line x1="1301" y1="805" x2="1306" y2="905" stroke="#d9a64c" stroke-width="2.6"/><line x1="1310" y1="805" x2="1315" y2="905" stroke="#d9a64c" stroke-width="2.6"/><line x1="1319" y1="805" x2="1324" y2="905" stroke="#d9a64c" stroke-width="2.6"/><line x1="1328" y1="805" x2="1333" y2="905" stroke="#d9a64c" stroke-width="2.6"/><line x1="1337" y1="805" x2="1342" y2="905" stroke="#d9a64c" stroke-width="2.6"/><line x1="1346" y1="805" x2="1351" y2="905" stroke="#d9a64c" stroke-width="2.6"/><line x1="1355" y1="805" x2="1360" y2="905" stroke="#d9a64c" stroke-width="2.6"/><line x1="1364" y1="805" x2="1369" y2="905" stroke="#d9a64c" stroke-width="2.6"/><line x1="1373" y1="805" x2="1378" y2="905" stroke="#d9a64c" stroke-width="2.6"/><line x1="1382" y1="805" x2="1387" y2="905" stroke="#d9a64c" stroke-width="2.6"/><line x1="1391" y1="805" x2="1396" y2="905" stroke="#d9a64c" stroke-width="2.6"/></g>
<polygon points="1376,868 1404,873 1397,898 1380,893" fill="#f3efe6"/>
<path d="M1270.4,858.3 C1285,875 1300,884 1308,887.5 C1320,895 1330,900 1337.5,900.6 C1352,901 1365,897 1372.5,893 C1385,886 1395,879 1403,874.4 L1387,964.8 C1370,972 1352,977 1337.5,978 C1320,978 1305,976 1293.75,973.5 Z" fill="#c91f29"/>
<polygon points="1270.4,858.3 1278,862 1300,974 1293.75,973.5" fill="#a51a21"/>
<path d="M1308,903.5 C1320,909 1330,912 1337.5,912.3 C1352,912 1365,909 1372.5,906.5 C1382,902 1390,898 1394.4,894.8" fill="none" stroke="#f1e2b4" stroke-width="7.5"/>
<rect x="1340.5" y="924" width="26" height="30.5" rx="3" fill="#c42029" stroke="#e0a050" stroke-width="1.3"/>
<path d="M1345,950 Q1345.5,931 1349.5,931 Q1353,931.5 1353.5,944 Q1354,931.5 1357.5,931 Q1361.5,931 1362,950" fill="none" stroke="#efb437" stroke-width="2.2"/>
<polygon points="1444,957 1545,957 1545,966 1444,966" fill="#ecebe4"/>
<polygon points="1448.3,859.8 1541.7,859.8 1543,960.4 1448.3,961.9" fill="#1e7a3b"/>
<polygon points="1541.7,859.8 1546,862 1547,958 1543,960.4" fill="#e9e9e2"/>
<rect x="1474.6" y="870" width="38" height="8.7" rx="2" fill="#f7f5ee"/>
<path d="M1455,885 Q1465,880 1470,890 M1520,885 Q1528,880 1532,890" stroke="#8fd08a" stroke-width="3" fill="none"/>
<path d="M1471.7,902 Q1472,887 1493,886 Q1514,887 1514,902 Z" fill="#e6a24a"/>
<rect x="1466" y="899" width="54" height="10" rx="3" fill="#79ac34"/>
<rect x="1469" y="907" width="48" height="9" fill="#7a3b1c"/>
<path d="M1470,915 L1516,915 Q1514,925 1493,925 Q1472,925 1470,915 Z" fill="#d5913f"/>
<rect x="1465.8" y="924" width="55.5" height="7.5" fill="#f8f6ee"/>
<text x="1464.5" y="946" font-family='"Liberation Sans", sans-serif' font-weight="700" font-size="17" fill="#f06a28" stroke="#ffffff" stroke-width="0.9" paint-order="stroke" textLength="57" lengthAdjust="spacingAndGlyphs">BURGER</text>
<rect x="1460" y="950" width="20" height="3" fill="#5a9a5a"/><rect x="1495" y="950" width="30" height="2" fill="#7ab07a"/>
<polygon points="1549,920 1668,921 1660,935 1630,928 1549,926" fill="#e9e3cb"/>
<polygon points="1556,915.8 1599,879.3 1637.2,891.5 1606,920" fill="#e6dec2"/>
<polygon points="1546.5,898 1591,865.6 1600,879.3 1556,916" fill="#f7f6f0"/>
<polygon points="1589.8,865 1654.8,890 1637.2,891.5 1599,879.3" fill="#2a7d44"/>
<circle cx="1608" cy="894" r="2.5" fill="#ffffff"/>
<polygon points="1549,924 1631.8,924 1619.6,963 1549,962" fill="#f6f6f2"/>
<polygon points="1619.6,933.4 1658.8,933.4 1652,959 1617,964.6" fill="#237a41"/>
<polygon points="1658.8,933.4 1668,921 1662,948 1652,959" fill="#eeede6"/>
<polygon points="1710.8,863 1779.4,866 1766.3,969 1724,969.5" fill="#c8112d"/>
<path d="M1712,866 Q1745,876 1778,868" fill="none" stroke="#b00e28" stroke-width="2"/>
<ellipse cx="1745" cy="864.5" rx="34.5" ry="3.8" fill="#eeeeee" stroke="#d8d8d8" stroke-width="1"/>
<polygon points="1723,961.5 1767,960.5 1766.3,969 1724,969.5" fill="#eeeeee"/>
<rect x="1731" y="890.5" width="29.5" height="35" rx="2" fill="#c8112d"/>
<circle cx="1745.5" cy="903" r="8.5" fill="#f2f2f2"/>
<path d="M1737,900 Q1745.5,890 1754,900" fill="none" stroke="#ffffff" stroke-width="3"/>
<circle cx="1742" cy="903" r="1.5" fill="#222"/><circle cx="1749" cy="903" r="1.5" fill="#222"/>
<path d="M1734,925 Q1736,912 1745.5,911 Q1755,912 1757,925 Z" fill="#1e1e1e"/>
<path d="M1741,913 L1745.5,922 L1750,913 Z" fill="#ffffff"/>
<text x="1733.5" y="939" font-family='"Liberation Sans", sans-serif' font-weight="700" font-style="italic" font-size="13" fill="#fff" textLength="25.5" lengthAdjust="spacingAndGlyphs">KFC</text>
<rect x="1734" y="941" width="22" height="2.5" fill="#e88"/>
</svg>
</body></html>
